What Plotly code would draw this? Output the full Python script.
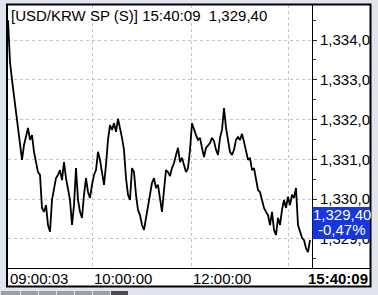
import plotly.graph_objects as go

# ---- data ----
prices = [
    1334.50, 1333.45, 1333.00, 1332.62, 1332.19, 1331.79, 1331.49, 1330.99, 1331.36, 1331.61,
    1331.79, 1331.49, 1331.61, 1331.19, 1330.93, 1330.68, 1330.61, 1329.78, 1329.68, 1329.85,
    1329.35, 1329.18, 1329.98, 1330.28, 1330.53, 1330.61, 1330.73, 1330.48, 1330.93, 1330.53,
    1330.23, 1329.98, 1329.35, 1329.85, 1330.78, 1329.98, 1329.68, 1329.53, 1330.11, 1330.53,
    1330.18, 1330.03, 1330.36, 1330.61, 1330.73, 1331.19, 1330.99, 1330.61, 1330.36, 1330.86,
    1331.49, 1331.86, 1331.74, 1331.91, 1331.69, 1332.02, 1331.79, 1331.54, 1331.24, 1330.53,
    1330.11, 1329.98, 1330.78, 1330.68, 1330.11, 1329.73, 1329.60, 1329.35, 1329.23, 1329.53,
    1329.73, 1330.11, 1330.41, 1330.53, 1330.28, 1330.36, 1329.98, 1329.68, 1330.23, 1330.73,
    1330.68, 1330.58, 1330.78, 1330.91, 1331.11, 1331.29, 1330.93, 1331.04, 1330.86, 1330.68,
    1330.78, 1331.24, 1331.91, 1331.74, 1331.61, 1331.49, 1331.54, 1331.29, 1331.06, 1331.29,
    1331.34, 1331.41, 1331.54, 1331.46, 1331.24, 1331.11, 1331.54, 1331.74, 1332.29, 1331.79,
    1331.49, 1331.19, 1331.11, 1331.24, 1331.49, 1331.56, 1331.49, 1331.64, 1331.44, 1331.19,
    1330.99, 1331.04, 1330.73, 1330.78, 1330.48, 1330.23, 1330.18, 1329.98, 1329.78, 1329.68,
    1329.60, 1329.35, 1329.68, 1329.23, 1329.10, 1329.53, 1329.35, 1329.73, 1329.98, 1329.78,
    1330.06, 1329.85, 1330.11, 1330.03, 1330.28, 1329.35, 1329.18, 1329.03, 1328.97, 1328.77,
    1328.67, 1328.97,
]
sample_index = list(range(len(prices)))

grid_time_index = [42, 91.5, 140]           # samples at 10:00, 12:00, 14:00
time_labels = ["10:00:00", "12:00:00"]      # labels shown at first two grid lines
first_time = "09:00:03"
last_time = "15:40:09"

y_tick_vals = [1329, 1330, 1331, 1332, 1333, 1334]
y_tick_text = ["1,329,00", "1,330,00", "1,331,00", "1,332,00", "1,333,00", "1,334,00"]
y_minor_vals = [1328.5, 1329.5, 1330.5, 1331.5, 1332.5, 1333.5, 1334.5]

title_text = "[USD/KRW SP (S)] 15:40:09\u00a0\u00a01,329,40"
last_price_text = "1,329,40"
last_price_value = 1329.40
change_text = "-0,47%"

# ---- layout geometry (pixels) ----
W, H = 378, 295
PL, PR, PT, PB = 8, 312, 5, 268


def fx(p):
    return (p - PL) / (PR - PL)


def fy(p):
    return (PB - p) / (PB - PT)


FONT = "Liberation Sans, Arial, sans-serif"
OUTER = "#dfe4ee"

fig = go.Figure()
fig.add_trace(go.Scatter(
    x=sample_index, y=prices, mode="lines",
    line=dict(color="#000000", width=1.8),
    hoverinfo="skip", showlegend=False,
))

shapes = []
# white panel inside frame
shapes.append(dict(type="rect", xref="paper", yref="paper", layer="below",
                   x0=fx(7), x1=fx(371), y0=fy(287), y1=fy(4.5),
                   fillcolor="white", line=dict(width=0)))
# outer background strip on the right (clips overflowing tick labels)
shapes.append(dict(type="rect", xref="paper", yref="paper", layer="above",
                   x0=fx(371), x1=fx(W + 2), y0=fy(H + 2), y1=fy(-2),
                   fillcolor=OUTER, line=dict(width=0)))
# frame
shapes.append(dict(type="rect", xref="paper", yref="paper", layer="above",
                   x0=fx(7), x1=fx(370.5), y0=fy(286.5), y1=fy(4.5),
                   fillcolor="rgba(0,0,0,0)", line=dict(color="black", width=2)))
# separator between plot and right price scale
shapes.append(dict(type="line", xref="paper", yref="paper", layer="above",
                   x0=fx(312.5), x1=fx(312.5), y0=fy(268), y1=fy(4.5),
                   line=dict(color="black", width=1)))
# line above time scale
shapes.append(dict(type="line", xref="paper", yref="paper", layer="above",
                   x0=fx(7), x1=fx(370.5), y0=fy(268.5), y1=fy(268.5),
                   line=dict(color="black", width=1)))
# last price box
box_half = 16
shapes.append(dict(type="rect", xref="paper", yref="y", layer="above",
                   x0=fx(312.5), x1=fx(370), y0=last_price_value - box_half / 39.8,
                   y1=last_price_value + box_half / 39.8,
                   fillcolor="#1537dc", line=dict(width=0)))
# bottom tabs
tab_edges = [0, 20, 38, 56, 74, 92, 110, 128]
for i in range(len(tab_edges) - 1):
    col = "#4a4a4a" if i == len(tab_edges) - 2 else "#9c9fa6"
    shapes.append(dict(type="rect", xref="paper", yref="paper", layer="above",
                       x0=fx(tab_edges[i] + 1), x1=fx(tab_edges[i + 1]),
                       y0=fy(H + 1), y1=fy(291),
                       fillcolor=col, line=dict(width=0)))

annotations = []
annotations.append(dict(text=title_text, xref="paper", yref="paper",
                        x=fx(9), y=fy(15.5), xanchor="left", yanchor="middle",
                        showarrow=False, font=dict(family=FONT, size=15, color="black")))
annotations.append(dict(text=first_time, xref="paper", yref="paper",
                        x=fx(8), y=fy(278), xanchor="left", yanchor="middle",
                        showarrow=False, font=dict(family=FONT, size=15, color="black")))
for lbl, xi in zip(time_labels, grid_time_index):
    annotations.append(dict(text=lbl, xref="x", yref="paper",
                            x=xi, y=fy(278), xanchor="left", yanchor="middle",
                            showarrow=False, font=dict(family=FONT, size=15, color="black")))
annotations.append(dict(text="<b>" + last_time + "</b>", xref="paper", yref="paper",
                        x=fx(370), y=fy(278), xanchor="right", yanchor="middle",
                        showarrow=False, font=dict(family=FONT, size=15, color="black")))
annotations.append(dict(text=last_price_text, xref="paper", yref="paper",
                        x=fx(341.5), y=fy(215), xanchor="center", yanchor="middle",
                        showarrow=False, font=dict(family=FONT, size=15, color="white")))
annotations.append(dict(text=change_text, xref="paper", yref="paper",
                        x=fx(341.5), y=fy(229.5), xanchor="center", yanchor="middle",
                        showarrow=False, font=dict(family=FONT, size=15, color="white")))

fig.update_layout(
    width=W, height=H,
    margin=dict(l=PL, r=W - PR, t=PT, b=H - PB, pad=0),
    paper_bgcolor=OUTER, plot_bgcolor="white",
    showlegend=False,
    shapes=shapes, annotations=annotations,
    xaxis=dict(range=[0, 152], tickmode="array", tickvals=grid_time_index,
               showticklabels=False, ticks="", showline=False, zeroline=False,
               showgrid=True, gridcolor="#c4c4c4", griddash="3px,3px", gridwidth=1,
               fixedrange=True, automargin=False),
    yaxis=dict(range=[1328.27, 1334.88], side="right", tickmode="array",
               tickvals=y_tick_vals, ticktext=y_tick_text,
               ticks="outside", ticklen=4, tickcolor="#333333", tickwidth=1,
               minor=dict(tickmode="array", tickvals=y_minor_vals, ticks="outside",
                          ticklen=3, tickcolor="#333333", showgrid=False),
               tickfont=dict(family=FONT, size=15, color="black"),
               showline=False, zeroline=False,
               showgrid=True, gridcolor="#c4c4c4", griddash="3px,3px", gridwidth=1,
               fixedrange=True, automargin=False),
)

fig.write_html("out.html", config={"displayModeBar": False})
